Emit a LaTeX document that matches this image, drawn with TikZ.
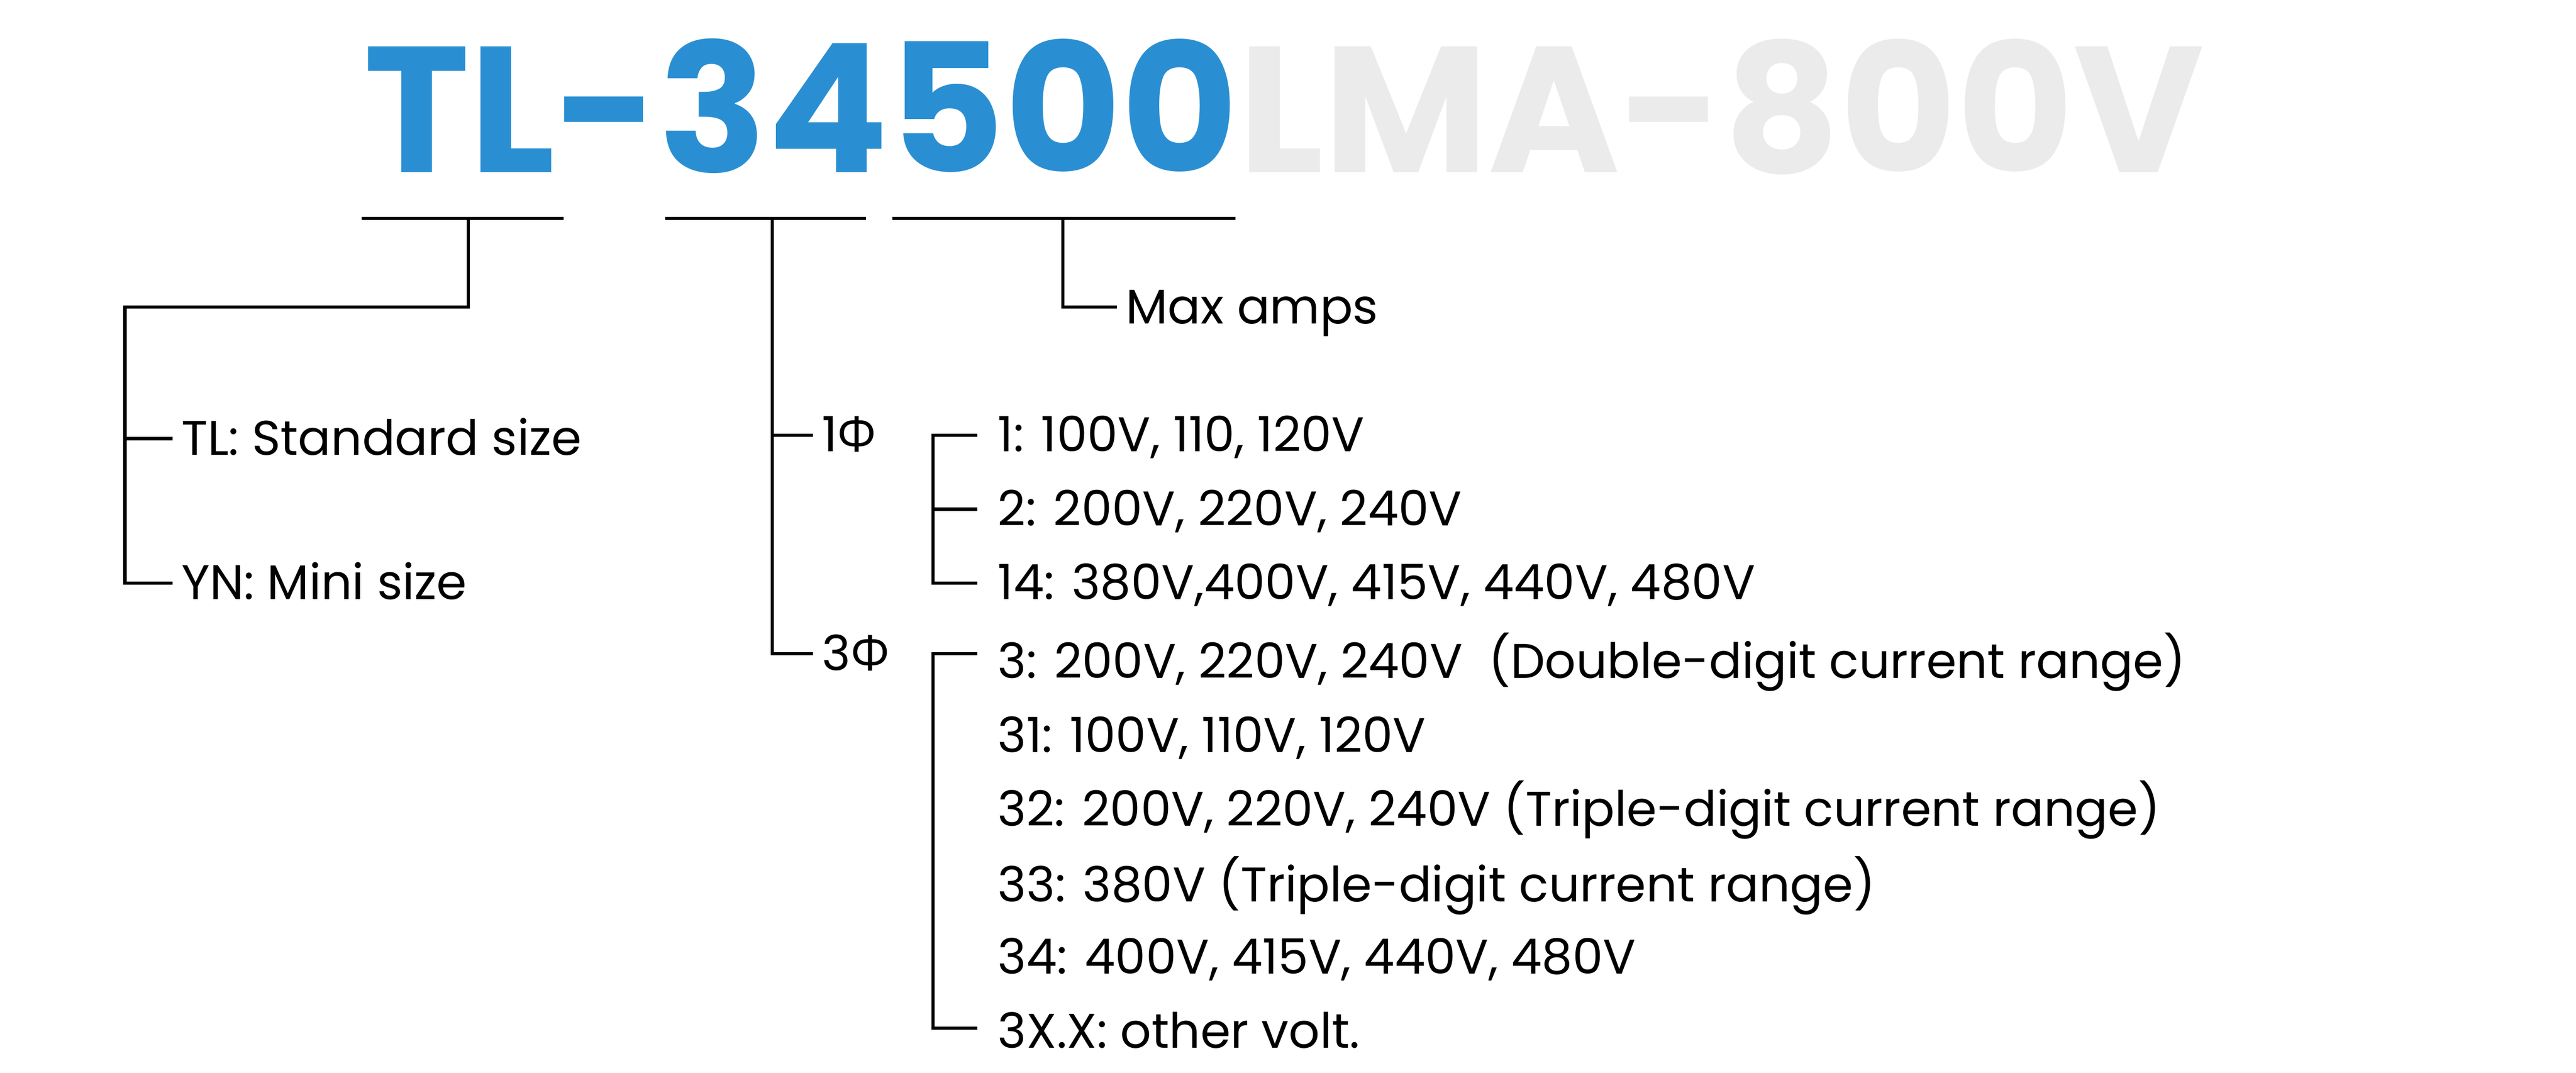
\documentclass[tikz,border=0pt]{standalone}
\usepackage{fontspec}
\setmainfont{Poppins}
\newfontfamily\grk{Open Sans}
\definecolor{tblue}{HTML}{2A8FD2}
\definecolor{tgray}{HTML}{EBEBEB}
\tikzset{ln/.style={line width=1pt,black},
 lbl/.style={anchor=base west,inner sep=0pt,font=\fontsize{14.8}{16}\selectfont}}
\begin{document}
\begin{tikzpicture}[x=0.5pt,y=-0.5pt]
\useasboundingbox (0,0) rectangle (1568,653);
\node[anchor=base west,inner sep=0pt,font=\fontsize{54.5}{60}\bfseries\selectfont] (title) at (221,105) {\textcolor{tblue}{TL-34500}\textcolor{tgray}{LMA-800V}};
% underlines
\draw[ln] (220,133) -- (343,133) (405,133) -- (527,133) (543,133) -- (752,133);
% size branch
\coordinate (s0) at (285,133);
\node[lbl] (tl) at (110,277) {TL: Standard size};
\node[lbl] (yn) at (110,365) {YN: Mini size};
\draw[ln] (s0) -- (285,187) -- (76,187) -- (76,355) -- (105,355);
\draw[ln] (76,267) -- (105,267);
% phase branch
\coordinate (p0) at (470,133);
\node[lbl] (p1) at (500,275) {1{\grk Φ}};
\node[lbl] (p3) at (500,408) {3{\grk Φ}};
\draw[ln] (p0) -- (470,398) -- (495,398);
\draw[ln] (470,265) -- (495,265);
% 1 phase list
\node[lbl] (a1) at (607,275) {1: 100V, 110, 120V};
\node[lbl] (a2) at (607,320) {2: 200V, 220V, 240V};
\node[lbl] (a3) at (607,365) {14: 380V,400V, 415V, 440V, 480V};
\draw[ln] (595,265) -- (568,265) -- (568,355) -- (595,355);
\draw[ln] (568,310) -- (595,310);
% 3 phase list
\node[lbl] (b1) at (607,413) {3: 200V, 220V, 240V\ \ (Double-digit current range)};
\node[lbl] (b2) at (607,458) {31: 100V, 110V, 120V};
\node[lbl] (b3) at (607,503) {32: 200V, 220V, 240V (Triple-digit current range)};
\node[lbl] (b4) at (607,549) {33: 380V (Triple-digit current range)};
\node[lbl] (b5) at (607,593) {34: 400V, 415V, 440V, 480V};
\node[lbl] (b6) at (607,638) {3X.X: other volt.};
\draw[ln] (595,398) -- (568,398) -- (568,626) -- (595,626);
% max amps
\coordinate (m0) at (647,133);
\node[lbl] (ma) at (685,197) {Max amps};
\draw[ln] (m0) -- (647,187) -- (680,187);
\end{tikzpicture}
\end{document}
